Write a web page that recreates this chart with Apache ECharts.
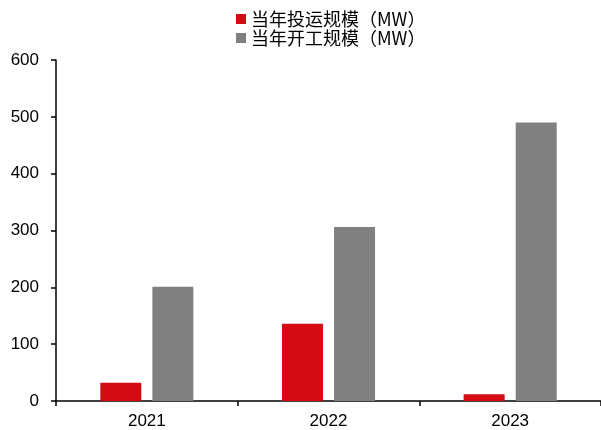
<!DOCTYPE html>
<html lang="zh">
<head>
    <meta charset="UTF-8">
    <title>规模</title>
    <style>
        html, body { margin: 0; padding: 0; background: #fff; }
        #main { width: 601px; height: 430px; }
    </style>
</head>
<body>
<div id="main"></div>
<script src="https://cdn.jsdelivr.net/npm/echarts@6/dist/echarts.min.js"></script>
<script>
    // 数据
    var years = ['2021', '2022', '2023'];
    var runScale = [32, 136, 12];      // 当年投运规模（MW）
    var startScale = [201, 306, 490];  // 当年开工规模（MW）
    var yTicks = [0, 100, 200, 300, 400, 500, 600];

    var chart = echarts.init(document.getElementById('main'));

    chart.setOption({
        animation: false,
        legend: {
            orient: 'vertical',
            top: 5,
            left: 231,
            itemWidth: 10,
            itemHeight: 10,
            itemGap: 1,
            icon: 'rect',
            textStyle: { fontSize: 18, color: '#000', fontFamily: 'Noto Sans CJK SC' },
            data: ['当年投运规模（MW）', '当年开工规模（MW）']
        },
        grid: { left: 56, right: 0, top: 60, bottom: 28, containLabel: false },
        xAxis: {
            type: 'category',
            data: years,
            axisLine: { lineStyle: { color: '#000', width: 1.5 } },
            axisTick: { show: true, length: 5, lineStyle: { color: '#000', width: 1.5 } },
            axisLabel: { fontSize: 17, color: '#000', fontFamily: 'Liberation Sans', margin: 12 }
        },
        yAxis: {
            type: 'value',
            min: yTicks[0],
            max: yTicks[yTicks.length - 1],
            interval: 100,
            splitLine: { show: false },
            axisLine: { show: true, lineStyle: { color: '#000', width: 1.5 } },
            axisTick: { show: true, length: 5, lineStyle: { color: '#000', width: 1.5 } },
            axisLabel: { fontSize: 17, color: '#000', fontFamily: 'Liberation Sans', margin: 17 }
        },
        series: [
            {
                name: '当年投运规模（MW）',
                type: 'bar',
                data: runScale,
                barWidth: 41,
                barGap: '27%',
                itemStyle: { color: '#D50B14' }
            },
            {
                name: '当年开工规模（MW）',
                type: 'bar',
                data: startScale,
                barWidth: 41,
                itemStyle: { color: '#808080' }
            }
        ]
    });
</script>
</body>
</html>
